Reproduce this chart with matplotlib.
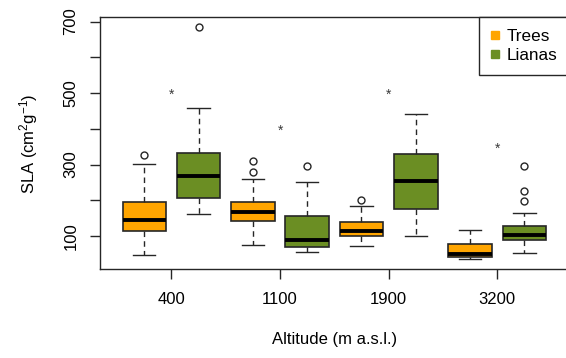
import matplotlib
matplotlib.use("Agg")
import matplotlib.pyplot as plt
from matplotlib.lines import Line2D

plt.rcParams["font.family"] = ["Liberation Sans", "DejaVu Sans"]
plt.rcParams["mathtext.default"] = "regular"

# --- data (SLA, cm2 g-1) ---
altitudes = ["400", "1100", "1900", "3200"]
groups = ["Trees", "Lianas"]
colors = {"Trees": "#FFA500", "Lianas": "#6B8E23"}

trees_low = [47, 75, 71, 37]
trees_q1 = [115, 143, 100, 42]
trees_med = [144, 168, 115, 50]
trees_q3 = [196, 194, 140, 79]
trees_high = [301, 261, 185, 118]
trees_out = [[326], [278, 311], [200], []]

lianas_low = [161, 56, 101, 53]
lianas_q1 = [207, 68, 175, 89]
lianas_med = [268, 89, 253, 104]
lianas_q3 = [333, 157, 329, 128]
lianas_high = [458, 250, 442, 165]
lianas_out = [[686], [297], [], [197, 226, 297]]

star_y = [494, 395, 494, 344]

EDGE = "#262626"


def make_stats(low, q1, med, q3, high, out):
    return [dict(whislo=a, q1=b, med=c, q3=d, whishi=e, fliers=f)
            for a, b, c, d, e, f in zip(low, q1, med, q3, high, out)]


trees_stats = make_stats(trees_low, trees_q1, trees_med, trees_q3, trees_high, trees_out)
lianas_stats = make_stats(lianas_low, lianas_q1, lianas_med, lianas_q3, lianas_high, lianas_out)

fig = plt.figure(figsize=(5.66, 3.58), dpi=100)
ax = fig.add_axes([100 / 566, 1 - 269.3 / 358, 468.7 / 566, 252 / 358])

n = len(altitudes)
pos_trees = [2 * i + 1 for i in range(n)]
pos_lianas = [2 * i + 2 for i in range(n)]
tick_pos = [2 * i + 1.5 for i in range(n)]

for stats, pos, grp in [(trees_stats, pos_trees, "Trees"), (lianas_stats, pos_lianas, "Lianas")]:
    ax.bxp(stats, positions=pos, widths=0.8, capwidths=0.41, patch_artist=True,
           boxprops=dict(facecolor=colors[grp], edgecolor=EDGE, linewidth=1.2),
           medianprops=dict(color="black", linewidth=2.8, solid_capstyle="butt"),
           whiskerprops=dict(color=EDGE, linewidth=1.0, linestyle=(0, (4, 3))),
           capprops=dict(color=EDGE, linewidth=1.0),
           flierprops=dict(marker="o", markersize=5, markerfacecolor="none",
                           markeredgecolor=EDGE, markeredgewidth=1.0))

for x, y in zip(tick_pos, star_y):
    ax.text(x, y, "*", ha="center", va="center", fontsize=10, color="#3a3a3a")

ax.set_xlim(0.184, 8.816)
ax.set_ylim(7, 712)
ax.set_xticks(tick_pos)
ax.set_xticklabels(altitudes)
ax.set_yticks([100, 200, 300, 400, 500, 600, 700])
ax.set_yticklabels(["100", "", "300", "", "500", "", "700"], rotation=90, va="center")
ax.tick_params(axis="both", length=7.5, width=1.0, color=EDGE, labelsize=12)
ax.tick_params(axis="x", pad=9)
ax.tick_params(axis="y", pad=8)
for s in ax.spines.values():
    s.set_color(EDGE)
    s.set_linewidth(1.0)

ax.set_xlabel("Altitude (m a.s.l.)", fontsize=12, labelpad=18)
ax.set_ylabel("SLA (cm$^2$g$^{-1}$)", fontsize=12, labelpad=17)

handles = [Line2D([], [], marker="s", linestyle="none", markersize=5.8,
                  markerfacecolor=colors[g], markeredgecolor=colors[g]) for g in groups]
leg = ax.legend(handles, groups, loc="upper right", bbox_to_anchor=(1, 1),
                borderaxespad=0, fancybox=False, framealpha=1, edgecolor=EDGE,
                fontsize=12.3, handlelength=0.5, handletextpad=0.45, borderpad=0.66,
                labelspacing=0.28)
leg.get_frame().set_linewidth(1.0)

fig.savefig("out.png", dpi=100)
